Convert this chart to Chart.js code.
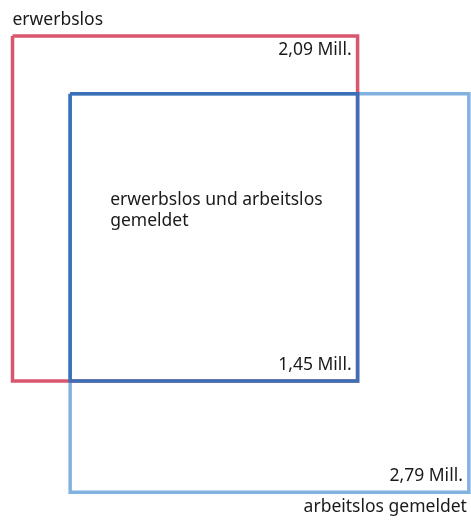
<!DOCTYPE html>
<html>
<head>
<meta charset="utf-8">
<script src="https://cdn.jsdelivr.net/npm/chart.js@4"></script>
<style>
  html, body { margin: 0; padding: 0; background: #fff; }
  #wrap { width: 471px; height: 520px; position: relative; }
</style>
</head>
<body>
<div id="wrap"><canvas id="venn"></canvas></div>
<script>
'use strict';

// groups: erwerbslos, overlap, arbeitslos gemeldet
var categories = ['erwerbslos', 'erwerbslos und arbeitslos gemeldet', 'arbeitslos gemeldet'];
var values = [2.09, 1.45, 2.79];          // Mill.
var valueLabels = ['2,09 Mill.', '1,45 Mill.', '2,79 Mill.'];

var colors = ['#d9566f', '#3b70b9', '#82b2e0'];
var FONT = '"Noto Sans", sans-serif';

(function () {
    // square sides from areas
    var a = Math.sqrt(values[0]);
    var c = Math.sqrt(values[1]);
    var b = Math.sqrt(values[2]);

    function square(x0, y0, w, h) {
        return [
            {x: x0, y: y0}, {x: x0 + w, y: y0},
            {x: x0 + w, y: y0 + h}, {x: x0, y: y0 + h},
            {x: x0, y: y0}
        ];
    }

    var boxes = [
        square(0, 0, a, a),
        square(a - c, a - c, c, c),
        square(a - c, a - c, b, b)
    ];

    var drawOrder = [1, 0, 2];
    var datasets = boxes.map(function (pts, i) {
        return {
            label: categories[i],
            data: pts,
            showLine: true,
            borderColor: colors[i],
            borderWidth: 3.5,
            pointRadius: 0,
            fill: false,
            tension: 0,
            order: drawOrder[i],
            borderJoinStyle: 'miter'
        };
    });

    var px = 238.7;
    var labelsPlugin = {
        id: 'vennLabels',
        afterDatasetsDraw: function (chart) {
            var ctx = chart.ctx;
            var xs = chart.scales.x, ys = chart.scales.y;
            function X(v) { return xs.getPixelForValue(v); }
            function Y(v) { return ys.getPixelForValue(v); }
            ctx.save();
            ctx.fillStyle = '#1a1a1a';
            ctx.font = '17.5px ' + FONT;
            ctx.textBaseline = 'middle';

            // group names
            ctx.textAlign = 'left';
            ctx.fillText(categories[0], X(0), Y(0) - 16);
            var words = categories[1].split(' ');
            ctx.fillText(words.slice(0, 3).join(' '), X(a - c) + 40, Y(a - c) + 106);
            ctx.fillText(words.slice(3).join(' '), X(a - c) + 40, Y(a - c) + 127);
            ctx.textAlign = 'right';
            ctx.fillText(categories[2], X(a - c + b) - 2, Y(a - c + b) + 15);

            // values, inside each box's right edge
            ctx.fillText(valueLabels[0], X(a) - 6, Y(0) + 14);
            ctx.fillText(valueLabels[1], X(a) - 6, Y(a) - 16);
            ctx.fillText(valueLabels[2], X(a - c + b) - 6, Y(a - c + b) - 16);
            ctx.restore();
        }
    };

    new Chart(document.getElementById('venn').getContext('2d'), {
        type: 'scatter',
        data: { datasets: datasets },
        options: {
            responsive: true,
            maintainAspectRatio: false,
            animation: false,
            layout: { padding: 0 },
            plugins: { legend: { display: false }, tooltip: { enabled: false } },
            scales: {
                x: { type: 'linear', display: false, min: -12.5 / px, max: (471 - 12.5) / px },
                y: { type: 'linear', display: false, reverse: true, min: -36 / px, max: (520 - 36) / px }
            }
        },
        plugins: [labelsPlugin]
    });
})();
</script>
</body>
</html>
